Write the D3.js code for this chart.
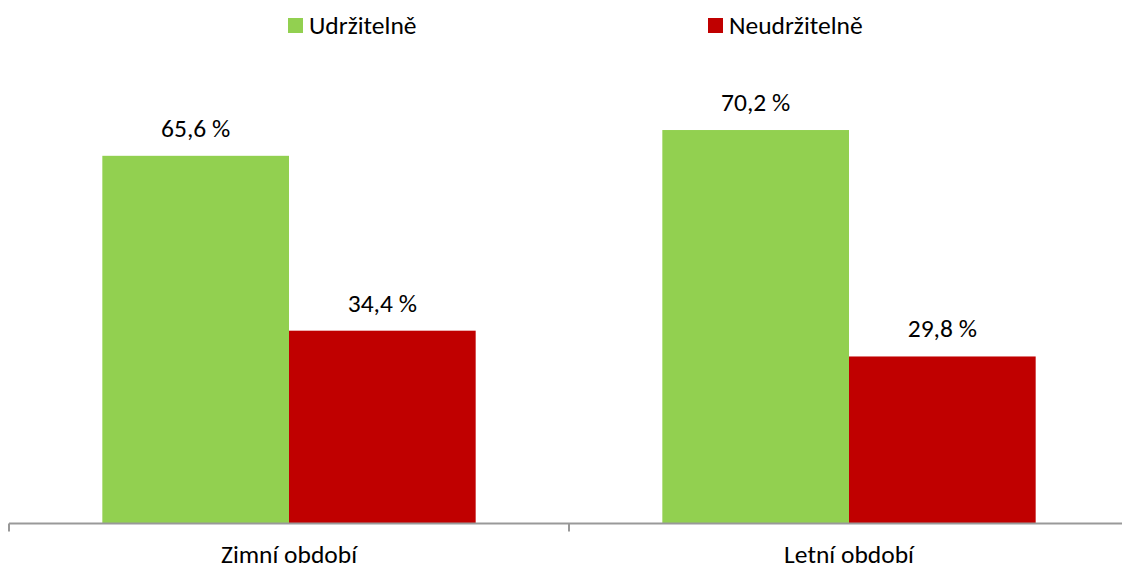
<!DOCTYPE html>
<html>
<head>
<meta charset="utf-8">
<script src="https://cdn.jsdelivr.net/npm/d3@7"></script>
<style>
  body { margin: 0; background: #fff; }
  svg text { font-family: Carlito, "Open Sans", sans-serif; fill: #000; }
</style>
</head>
<body>
<svg></svg>
<script>
let categories = ["Zimní období", "Letní období"]
let seriesNames = ["Udržitelně", "Neudržitelně"]
let seriesColors = ["#92D050", "#C00000"]
let udrzitelne = [65.6, 70.2]
let neudrzitelne = [34.4, 29.8]

const w = 1122
const h = 569
const left = 9
const bandW = 560
const baseY = 523.5
const pxPerPct = 5.605
const fs = "25.5px"

let svg = d3.select("svg").attr("width", w).attr("height", h)

let xScale = d3.scaleBand()
  .domain(categories)
  .range([left, left + bandW * categories.length])
  .paddingInner(0)
  .paddingOuter(0)

let inner = d3.scaleBand()
  .domain(seriesNames)
  .range([0, xScale.bandwidth()])
  .paddingOuter(0.5)
  .paddingInner(0)

let yScale = d3.scaleLinear()
  .domain([0, 100])
  .range([baseY, baseY - 100 * pxPerPct])

let rows = categories.map((c, i) => ({cat: c, vals: [udrzitelne[i], neudrzitelne[i]]}))

let groups = svg.selectAll(".grp")
  .data(rows)
  .enter()
  .append("g")
  .attr("class", "grp")
  .attr("transform", (d) => "translate(" + xScale(d.cat) + ",0)")

groups.selectAll("rect")
  .data((d) => d.vals.map((v, j) => ({name: seriesNames[j], v: v, j: j})))
  .enter()
  .append("rect")
  .attr("x", (d) => inner(d.name))
  .attr("width", inner.bandwidth())
  .attr("y", (d) => yScale(d.v))
  .attr("height", (d) => baseY - yScale(d.v))
  .attr("fill", (d) => seriesColors[d.j])

groups.selectAll("text.val")
  .data((d) => d.vals.map((v, j) => ({name: seriesNames[j], v: v})))
  .enter()
  .append("text")
  .attr("class", "val")
  .attr("x", (d) => inner(d.name) + inner.bandwidth() / 2)
  .attr("y", (d) => yScale(d.v) - 19)
  .attr("text-anchor", "middle")
  .style("font-size", fs)
  .text((d) => d.v.toFixed(1).replace(".", ",") + " %")

// axis
let xAxis = d3.axisBottom(xScale).tickSize(0).tickFormat("")
let ax = svg.append("g")
  .attr("transform", "translate(0," + baseY + ")")
  .call(xAxis)
ax.select(".domain").remove()
ax.append("line")
  .attr("x1", left).attr("x2", w)
  .attr("stroke", "#999").attr("stroke-width", 2)
let tickXs = d3.range(categories.length + 1).map((i) => left + i * xScale.step())
ax.selectAll(".sep")
  .data(tickXs)
  .enter()
  .append("line")
  .attr("x1", (d) => d).attr("x2", (d) => d)
  .attr("y1", 0).attr("y2", 8)
  .attr("stroke", "#999").attr("stroke-width", 2)

svg.selectAll(".cat")
  .data(categories)
  .enter()
  .append("text")
  .attr("class", "cat")
  .attr("x", (d) => xScale(d) + xScale.bandwidth() / 2)
  .attr("y", 563)
  .attr("text-anchor", "middle")
  .style("font-size", fs)
  .text((d) => d)

// legend
let legendX = [288, 708]
let leg = svg.selectAll(".leg")
  .data(seriesNames)
  .enter()
  .append("g")
  .attr("class", "leg")
  .attr("transform", (d, i) => "translate(" + legendX[i] + ",18)")
leg.append("rect")
  .attr("width", 15).attr("height", 15)
  .attr("fill", (d, i) => seriesColors[i])
leg.append("text")
  .attr("x", 21).attr("y", 16)
  .style("font-size", fs)
  .text((d) => d)
</script>
</body>
</html>
